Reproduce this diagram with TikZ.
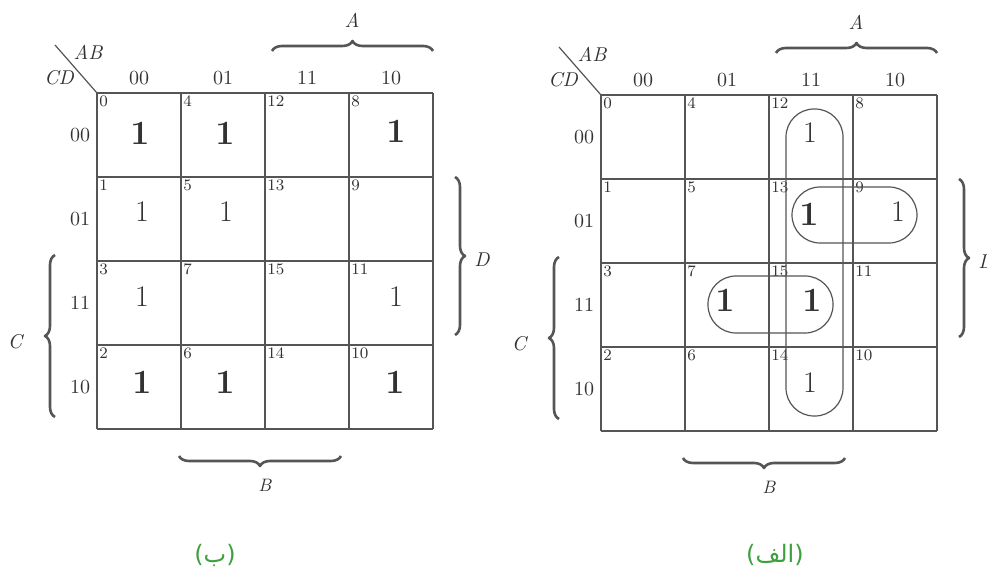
\documentclass[tikz,border=0pt]{standalone}
\usepackage{fontspec}
\usetikzlibrary{decorations.pathreplacing,positioning}
\newfontfamily\arabicfont[Script=Arabic]{DejaVu Sans}
\newfontfamily\parenfont{DejaVu Sans}
\TeXXeTstate=1
\definecolor{kgray}{RGB}{85,85,85}
\definecolor{ktext}{RGB}{50,50,50}
\definecolor{capgreen}{RGB}{60,160,60}

\begin{document}
\begin{tikzpicture}[x=0.5pt,y=-0.5pt,line join=round]
\tikzstyle{kline}=[draw=kgray,line width=0.8pt]
\tikzstyle{cellno}=[anchor=north west,inner sep=0pt,text=ktext,font=\fontsize{8}{8}\selectfont]
\tikzstyle{lbl}=[inner sep=0pt,text=ktext,font=\fontsize{10}{10}\selectfont]
\tikzstyle{var}=[inner sep=0pt,text=ktext,font=\fontsize{10}{10}\selectfont\itshape]
\tikzstyle{one}=[inner sep=0pt,text=ktext,font=\fontsize{15}{15}\selectfont]
\tikzstyle{bone}=[inner sep=0pt,text=ktext,font=\fontsize{17}{17}\selectfont\bfseries]
\tikzstyle{brc}=[draw=kgray,line width=1.3pt,decorate,decoration={brace,amplitude=5pt}]
\tikzstyle{grp}=[draw=kgray,line width=0.6pt,rounded corners=14pt]
\tikzstyle{capt}=[inner sep=0pt,text=capgreen,font=\fontsize{12}{12}\selectfont\parenfont]
\useasboundingbox (0,0) rectangle (987,571);

% the two maps
\foreach \m/\ox/\oy in {l/97/93,r/601/95}{
\begin{scope}[shift={(\ox,\oy)}]
  \foreach \i in {0,84,168,252,336}{
    \draw[kline] (\i,0) -- (\i,336);
    \draw[kline] (0,\i) -- (336,\i);
  }
  \foreach \c/\cv in {0/0,1/1,2/3,3/2}
    \foreach \r/\rv in {0/0,1/1,2/3,3/2}{
      \pgfmathtruncatemacro{\n}{4*\cv+\rv}
      \node[cellno] (\m n\n) at (\c*84+2,\r*84+2) {\n};
    }
  \foreach \k/\t in {0/00,1/01,2/11,3/10}{
    \node[lbl] (\m col\k) at (\k*84+42,-15) {\t};
    \node[lbl] (\m row\k) at (-17,\k*84+42) {\t};
  }
  % corner
  \coordinate (\m corner) at (0,0);
  \coordinate (\m diag) at (-42,-48);
  \draw[kgray,line width=0.6pt] (\m diag) -- (\m corner);
  \node[var] (\m AB) at (-9,-41) {AB};
  \node[var] (\m CD) at (-38,-15) {CD};
  % braces
  \coordinate (\m a1) at (175,-42);  \coordinate (\m a2) at (336,-42);
  \coordinate (\m d1) at (358,84);   \coordinate (\m d2) at (358,242);
  \coordinate (\m c1) at (-42,324);  \coordinate (\m c2) at (-42,162);
  \coordinate (\m b1) at (244,363);  \coordinate (\m b2) at (82,363);
  \draw[brc] (\m a1) -- (\m a2);
  \draw[brc] (\m d1) -- (\m d2);
  \draw[brc] (\m c1) -- (\m c2);
  \draw[brc] (\m b1) -- (\m b2);
  \node[var] (\m A) at (255,-73) {A};
  \node[var] (\m D) at (385,167) {D};
  \node[var] (\m C) at (-82,249) {C};
  \node[var,font=\fontsize{9}{9}\selectfont\itshape] (\m B) at (168,392) {B};
\end{scope}
}

% map (b)
\node[bone] (l0) at (140,133) {1};
\node[bone] (l4) at (225,133) {1};
\node[bone] (l8) at (396,131) {1};
\node[one] (l1) at (142,212) {1};
\node[one] (l5) at (226,212) {1};
\node[one] (l3) at (142,297) {1};
\node[one] (l11) at (396,297) {1};
\node[bone] (l2) at (142,382) {1};
\node[bone] (l6) at (225,382) {1};
\node[bone] (l10) at (395,382) {1};

% map (a)
\node[one] (r12) at (810,133) {1};
\node[bone] (r13) at (809,214) {1};
\node[one] (r9) at (898,212) {1};
\node[bone] (r7) at (725,300) {1};
\node[bone] (r15) at (812,300) {1};
\node[one] (r14) at (810,383) {1};
\draw[grp] (786,109) rectangle (843,416);
\draw[grp] (792,187) rectangle (917,243);
\draw[grp] (708,276) rectangle (833,333);

\node[capt] (capb) at (215,555) {({\arabicfont\beginR ب\endR})};
\node[capt] (capa) at (775,555) {({\arabicfont\beginR الف\endR})};
\end{tikzpicture}
\end{document}
